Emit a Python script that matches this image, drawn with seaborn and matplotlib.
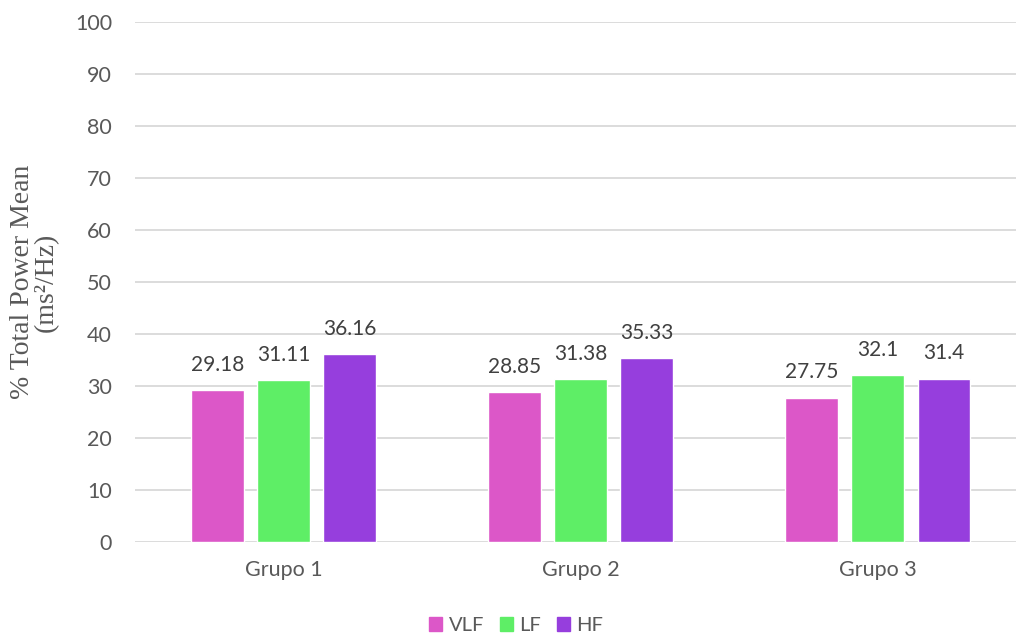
import matplotlib
matplotlib.use("Agg")
import matplotlib.pyplot as plt
import seaborn as sns
import pandas as pd

groups = ["Grupo 1", "Grupo 2", "Grupo 3"]
bands = ["VLF", "LF", "HF"]
vlf = [29.18, 28.85, 27.75]
lf = [31.11, 31.38, 32.1]
hf = [36.16, 35.33, 31.4]
yticks = [0, 10, 20, 30, 40, 50, 60, 70, 80, 90, 100]

colors = ["#DC57C8", "#5EEE66", "#963EDD"]
text_color = "#595959"
grid_color = "#D9D9D9"

df = pd.DataFrame({
    "grupo": groups * 3,
    "banda": [b for b in bands for _ in groups],
    "valor": vlf + lf + hf,
})

sns.set_style("white")
plt.rcParams["font.family"] = ["Lato", "DejaVu Sans"]

fig = plt.figure(figsize=(10.16, 6.37), dpi=100)
ax = fig.add_axes([0.1329, 0.149, 0.877, 0.8165])

sns.barplot(data=df, x="grupo", y="valor", hue="banda", hue_order=bands,
            order=groups, palette=colors, width=0.667, gap=0.21,
            ax=ax, legend=False, saturation=1, errorbar=None)

for c in ax.containers:
    ax.bar_label(c, fmt="%g", padding=11, fontsize=15, color="#404040")

ax.set_xlim(-0.5, 2.5)
ax.set_ylim(0, 100)
ax.set_yticks(yticks)
ax.grid(axis="y", color=grid_color, linewidth=1.3)
ax.set_axisbelow(True)
for s in ax.spines.values():
    s.set_visible(False)
ax.tick_params(axis="both", length=0, labelsize=15.5, colors=text_color)
ax.tick_params(axis="x", pad=13)
ax.tick_params(axis="y", pad=16.5)
ax.set_xlabel("")
ax.set_ylabel("% Total Power Mean\n(ms²/Hz)", family=["Liberation Serif"],
              fontsize=20, color=text_color, linespacing=0.95)
ax.yaxis.set_label_coords(-0.085, 0.5)

handles = [plt.Rectangle((0, 0), 1, 1, color=c) for c in colors]
fig.legend(handles, bands, loc="center", bbox_to_anchor=(0.508, 0.018),
           ncol=3, frameon=False, fontsize=14.5, labelcolor=text_color,
           handlelength=0.65, handleheight=0.65, handletextpad=0.3,
           columnspacing=0.8)

fig.savefig("out.png", dpi=100)
